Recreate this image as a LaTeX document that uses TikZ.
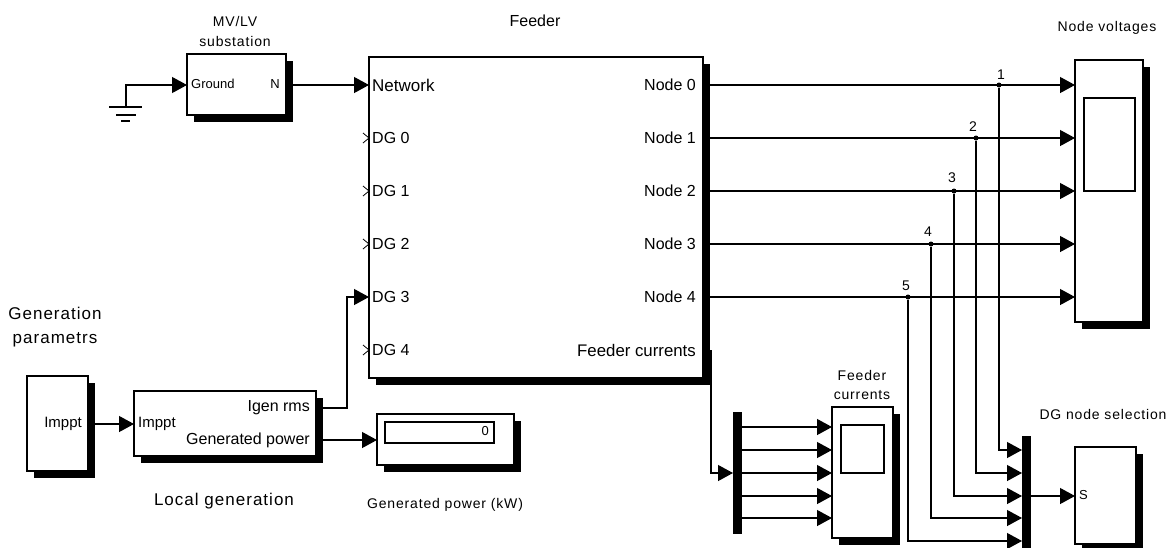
\documentclass[tikz,border=0pt]{standalone}
\usepackage{fontspec}
\setmainfont{Liberation Sans}
\newfontfamily\lblfont[LetterSpace=6]{Liberation Sans}
\usetikzlibrary{arrows.meta,shadows,calc}
\tikzset{
  x=1pt,y=-1pt,
  blk/.style={draw=black,line width=1.2pt,fill=white,inner sep=0pt,
     drop shadow={shadow xshift=6.5pt,shadow yshift=-6.5pt,fill=black,opacity=1}},
  screenbox/.style={draw=black,line width=1.2pt,fill=white,inner sep=0pt},
  bar/.style={fill=black,draw=none,inner sep=0pt},
  wire/.style={line width=1.2pt,-{Triangle[length=15pt,width=16pt]}},
  plain/.style={line width=1.2pt},
  jct/.style={circle,fill=black,inner sep=0pt,minimum size=5pt},
  bigtxt/.style={font=\fontsize{16}{16}\selectfont,inner sep=0pt},
  smalltxt/.style={font=\fontsize{13}{13}\selectfont,inner sep=0pt},
  lbl/.style={font=\fontsize{14}{14}\lblfont,inner sep=0pt},
  lblbig/.style={font=\fontsize{17}{17}\lblfont,inner sep=0pt},
}
\begin{document}
\begin{tikzpicture}[line join=miter]
\clip (0,0) rectangle (1173,547);
\fill[white] (0,0) rectangle (1173,547);
% blocks
\node[blk,minimum width=99pt,minimum height=61pt] (sub) at (236.5,84.5) {};
\node[blk,minimum width=334pt,minimum height=321pt] (feeder) at (536,217.5) {};
\node[blk,minimum width=68pt,minimum height=262pt] (vscope) at (1109,191) {};
\node[screenbox,minimum width=51pt,minimum height=93pt] (vscreen) at (1109.5,144.5) {};
\node[blk,minimum width=61pt,minimum height=95pt] (param) at (57.5,423.5) {};
\node[blk,minimum width=182pt,minimum height=65pt] (gen) at (225,423.5) {};
\node[blk,minimum width=137pt,minimum height=51pt] (disp) at (445.5,439.5) {};
\node[screenbox,minimum width=109pt,minimum height=21pt] (dispscreen) at (439.5,432.5) {};
\node[blk,minimum width=61pt,minimum height=131pt] (iscope) at (862.5,472.5) {};
\node[screenbox,minimum width=43pt,minimum height=48pt] (iscreen) at (862.5,449) {};
\node[blk,minimum width=61pt,minimum height=97pt] (sel) at (1105.5,495.5) {};
\node[bar,minimum width=9pt,minimum height=122pt] (muxa) at (737,473) {};
\node[bar,minimum width=9pt,minimum height=120pt] (muxb) at (1026,496) {};
% ports
\coordinate (gnd) at (126,107);
\coordinate (subin) at (187,85);
\coordinate (subout) at (293,85);
\coordinate (fnet) at (369,85);
\coordinate (fdg3) at (369,297);
\coordinate (f0) at (703,85);
\coordinate (f1) at (703,138);
\coordinate (f2) at (703,191);
\coordinate (f3) at (703,244);
\coordinate (f4) at (703,297);
\coordinate (fcur) at (711,350);
\coordinate (v0) at (1075,85);
\coordinate (v1) at (1075,138);
\coordinate (v2) at (1075,191);
\coordinate (v3) at (1075,244);
\coordinate (v4) at (1075,297);
\node[jct] (j1) at (999,85) {};
\node[jct] (j2) at (976,138) {};
\node[jct] (j3) at (954,191) {};
\node[jct] (j4) at (931,244) {};
\node[jct] (j5) at (908,297) {};
\foreach \n/\y in {1/450,2/473,3/496,4/518,5/541}{\coordinate (mb\n) at (1022,\y);}
\foreach \n/\y in {1/427,2/450,3/473,4/496,5/518}{
  \coordinate (ma\n) at (741,\y);
  \coordinate (is\n) at (832,\y);
}
\coordinate (muxain) at (733,473);
\coordinate (muxbout) at (1030,496);
\coordinate (selin) at (1075,496);
\coordinate (parout) at (95,424);
\coordinate (genin) at (134,424);
\coordinate (genig) at (323,408);
\coordinate (genpw) at (323,440);
\coordinate (dispin) at (377,440);
% connectors
\draw[wire] (gnd) |- (subin);
\draw[wire] (subout) -- (fnet);
\draw[wire] (f0) -- (v0);
\draw[wire] (f1) -- (v1);
\draw[wire] (f2) -- (v2);
\draw[wire] (f3) -- (v3);
\draw[wire] (f4) -- (v4);
\draw[wire] (j1) |- (mb1);
\draw[wire] (j2) |- (mb2);
\draw[wire] (j3) |- (mb3);
\draw[wire] (j4) |- (mb4);
\draw[wire] (j5) |- (mb5);
\draw[wire] (fcur) |- (muxain);
\foreach \n in {1,...,5}{\draw[wire] (ma\n) -- (is\n);}
\draw[wire] (muxbout) -- (selin);
\draw[wire] (parout) -- (genin);
\draw[wire] (genpw) -- (dispin);
\draw[wire] (genig) -| (347,297) -- (fdg3);
% ground
\draw[plain] (109,107) -- (142,107) (116,115) -- (136,115) (121,121) -- (130,121);
% open ports
\foreach \y in {138,191,244,350}{\draw[line width=.8pt] (363,\y-5) -- (369,\y) -- (363,\y+5);}
% texts
\node[lbl,align=center,font=\fontsize{14}{20}\lblfont] (t1) at (235,31) {MV/LV\\substation};
\node[bigtxt] (t2) at (535,21) {Feeder};
\node[lbl] (t3) at (1107,28) {Node voltages};
\node[smalltxt,anchor=west] (t4) at (191,84) {Ground};
\node[smalltxt,anchor=east] (t5) at (280,84) {N};
\node[bigtxt,anchor=west,font=\fontsize{17}{17}\selectfont] (t6) at (372,85) {Network};
\foreach \n/\y/\s in {a/138/DG 0,b/191/DG 1,c/244/DG 2,d/297/DG 3,e/350/DG 4}{\node[bigtxt,anchor=west] (dg\n) at (372,\y) {\s};}
\foreach \n/\y in {0/85,1/138,2/191,3/244,4/297}{\node[bigtxt,anchor=east] (nd\n) at (696,\y) {Node \n};}
\node[bigtxt,anchor=east,font=\fontsize{16.8}{17}\selectfont] (t7) at (696,350) {Feeder currents};
\foreach \n/\x/\y in {1/1001/75,2/973/127,3/952/178,4/928/232,5/906/286}{\node[bigtxt,font=\fontsize{14}{14}\selectfont] (num\n) at (\x,\y) {\n};}
\node[lblbig,align=center,font=\fontsize{17}{24}\lblfont] (t8) at (55,327) {Generation\\parametrs};
\node[bigtxt,anchor=east,font=\fontsize{15}{15}\selectfont] (t9) at (82,424) {Imppt};
\node[bigtxt,anchor=west,font=\fontsize{15}{15}\selectfont] (t10) at (138,424) {Imppt};
\node[bigtxt,anchor=east] (t11) at (310,408) {Igen rms};
\node[bigtxt,anchor=east] (t12) at (310,440) {Generated power};
\node[lblbig] (t13) at (224,501) {Local generation};
\node[smalltxt,anchor=east] (t14) at (489,431) {0};
\node[lbl,font=\fontsize{14}{14}\lblfont] (t15) at (445,505) {Generated power (kW)};
\node[lbl,align=center,font=\fontsize{14}{19}\lblfont] (t16) at (862,385) {Feeder\\currents};
\node[lbl] (t17) at (1103,414) {DG node selection};
\node[smalltxt,anchor=west] (t18) at (1079,495) {S};
\end{tikzpicture}
\end{document}
